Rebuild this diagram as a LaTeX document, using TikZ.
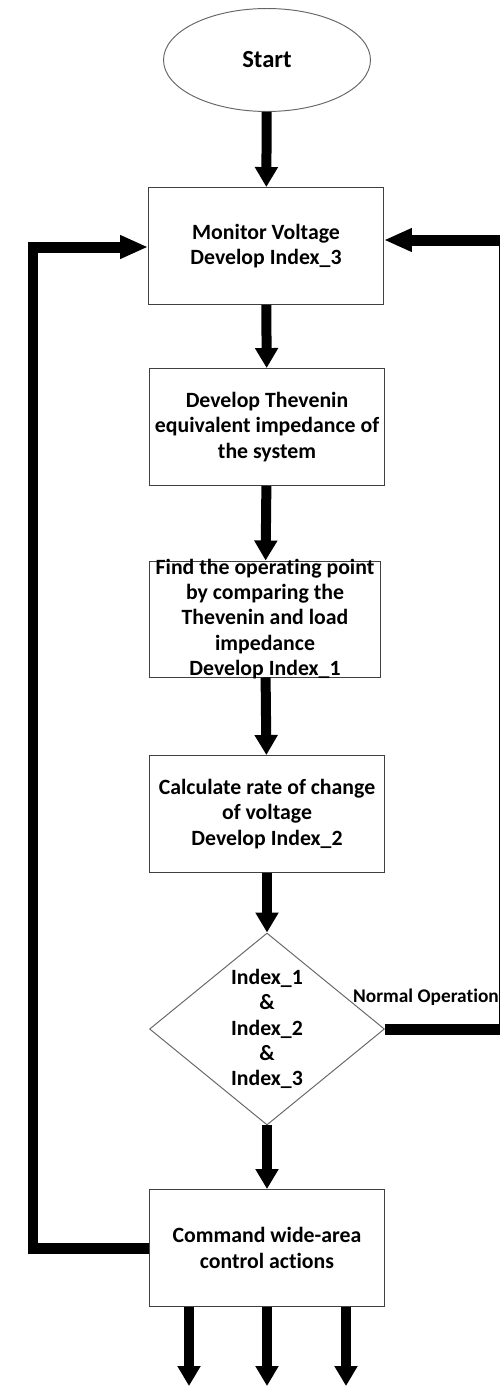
\documentclass[tikz,border=0pt]{standalone}
\usepackage{fontspec}
\setmainfont{Carlito}[Ligatures=CommonOff]
\usetikzlibrary{shapes.geometric,arrows.meta}

\begin{document}
\begin{tikzpicture}[x=0.02cm,y=-0.02cm,
    txt/.style={align=center,font=\fontsize{12.4}{14.4}\selectfont\bfseries},
    box/.style={txt,draw=black!75,line width=0.55pt,minimum width=4.7cm,minimum height=2.34cm},
    flow/.style={line width=0.2cm,-{Triangle[width=0.44cm,length=0.4cm]}},
    backflow/.style={line width=0.22cm,-{Triangle[width=0.44cm,length=0.56cm]}}]

    \useasboundingbox (0,0) rectangle (500,1386);

    % Blocchi
    \node[txt,font=\fontsize{14}{16}\selectfont\bfseries,ellipse,draw=black!60,line width=0.55pt,minimum width=4.14cm,minimum height=2.06cm] (start) at (267,60) {Start};
    \node[box] (monitor) at (266,246) {Monitor Voltage\\Develop Index\_3};
    \node[box] (thevenin) at (267,427) {Develop Thevenin\\equivalent impedance of\\the system};
    \node[box,minimum width=4.64cm,minimum height=2.32cm,inner ysep=-0.1cm] (point) at (265,619) {Find the operating point\\by comparing the\\Thevenin and load\\impedance\\Develop Index\_1};
    \node[box] (rate) at (267,814) {Calculate rate of change\\of voltage\\Develop Index\_2};
    \node[txt,diamond,draw=black!60,line width=0.55pt,inner sep=0pt,aspect=1.22,minimum width=4.7cm,minimum height=3.84cm] (check) at (267,1029) {Index\_1\\\&\\Index\_2\\\&\\Index\_3};
    \node[box] (command) at (267,1248) {Command wide-area\\control actions};

    % Etichetta
    \node[font=\fontsize{11}{12}\selectfont\bfseries] (normal) at (426,997) {Normal Operation};

    % Frecce
    \draw[flow] (start) -- (monitor);
    \draw[flow] (monitor) -- (thevenin);
    \draw[flow] (thevenin) -- (point);
    \draw[flow] (point) -- (rate);
    \draw[flow] (rate) -- (check);
    \draw[flow] (check) -- (command);

    % Anelli di ritorno
    \coordinate (rtop) at (504,240);
    \coordinate (ltop) at (33,247);
    \draw[backflow] (check.east) -| (rtop) -- (monitor.east |- rtop);
    \draw[backflow] (command.west) -| (ltop) -- (monitor.west |- ltop);

    % Uscite
    \coordinate (out1) at (189,1386);
    \coordinate (out2) at (267,1386);
    \coordinate (out3) at (346,1386);
    \draw[flow] (command.south -| out1) -- (out1);
    \draw[flow] (command.south -| out2) -- (out2);
    \draw[flow] (command.south -| out3) -- (out3);

\end{tikzpicture}
\end{document}
